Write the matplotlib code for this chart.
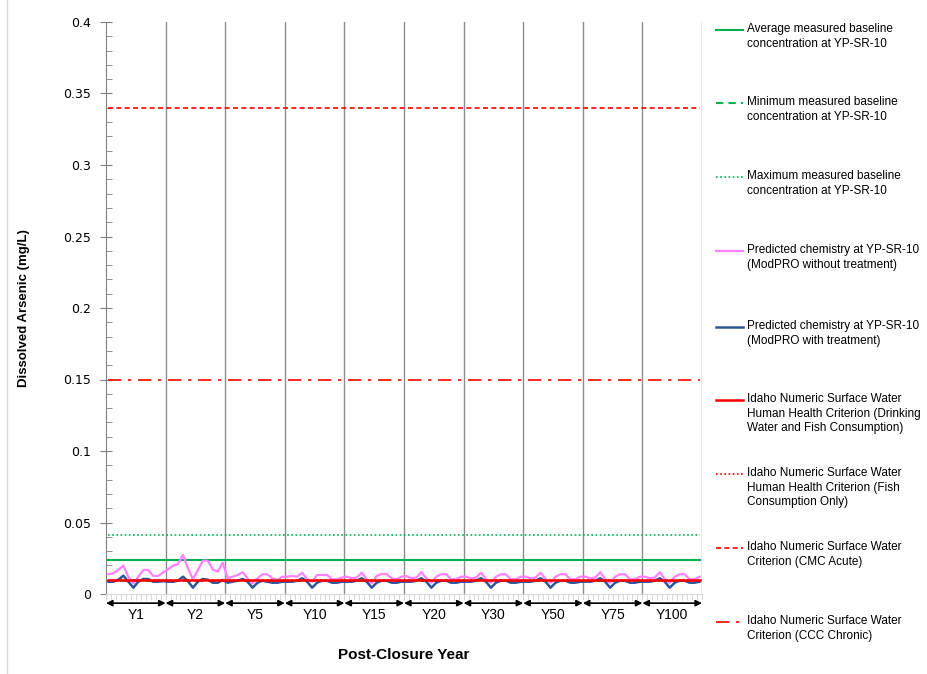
import matplotlib
matplotlib.use("Agg")
import matplotlib.pyplot as plt
from matplotlib.lines import Line2D

# -----------------------------
# Data
# -----------------------------
years = ["Y1", "Y2", "Y5", "Y10", "Y15", "Y20", "Y30", "Y50", "Y75", "Y100"]
months_per_year = 12

# ModPRO without treatment, monthly values per snapshot year (mg/L)
pink_by_year = [
    [0.0138, 0.0145, 0.0170, 0.0198, 0.0120, 0.0075, 0.0120, 0.0168, 0.0168, 0.0126, 0.0126, 0.0152],
    [0.0172, 0.0198, 0.0210, 0.0273, 0.0180, 0.0103, 0.0168, 0.0233, 0.0233, 0.0172, 0.0156, 0.0219],
    [0.0110, 0.0121, 0.0133, 0.0152, 0.0110, 0.0075, 0.0110, 0.0138, 0.0138, 0.0110, 0.0098, 0.0121],
    [0.0121, 0.0126, 0.0121, 0.0149, 0.0103, 0.0086, 0.0133, 0.0133, 0.0133, 0.0103, 0.0103, 0.0115],
    [0.0121, 0.0110, 0.0115, 0.0149, 0.0103, 0.0075, 0.0126, 0.0140, 0.0140, 0.0110, 0.0103, 0.0121],
    [0.0126, 0.0110, 0.0115, 0.0152, 0.0110, 0.0079, 0.0121, 0.0138, 0.0138, 0.0103, 0.0103, 0.0121],
    [0.0121, 0.0110, 0.0115, 0.0149, 0.0105, 0.0079, 0.0121, 0.0138, 0.0138, 0.0103, 0.0103, 0.0121],
    [0.0121, 0.0110, 0.0115, 0.0149, 0.0105, 0.0079, 0.0121, 0.0138, 0.0138, 0.0103, 0.0103, 0.0121],
    [0.0121, 0.0110, 0.0115, 0.0152, 0.0105, 0.0079, 0.0121, 0.0138, 0.0138, 0.0103, 0.0103, 0.0121],
    [0.0121, 0.0110, 0.0115, 0.0152, 0.0105, 0.0079, 0.0121, 0.0138, 0.0138, 0.0103, 0.0103, 0.0121],
]

# ModPRO with treatment
blue_by_year = [
    [0.0086, 0.0086, 0.0100, 0.0128, 0.0086, 0.0044, 0.0086, 0.0105, 0.0105, 0.0086, 0.0086, 0.0090],
    [0.0086, 0.0086, 0.0093, 0.0121, 0.0090, 0.0044, 0.0086, 0.0105, 0.0100, 0.0079, 0.0079, 0.0098],
    [0.0079, 0.0086, 0.0093, 0.0105, 0.0086, 0.0044, 0.0079, 0.0093, 0.0086, 0.0079, 0.0079, 0.0086],
    [0.0086, 0.0086, 0.0093, 0.0110, 0.0086, 0.0044, 0.0079, 0.0093, 0.0093, 0.0079, 0.0079, 0.0086],
    [0.0086, 0.0086, 0.0093, 0.0110, 0.0086, 0.0044, 0.0079, 0.0093, 0.0093, 0.0079, 0.0079, 0.0086],
    [0.0086, 0.0086, 0.0093, 0.0110, 0.0086, 0.0044, 0.0079, 0.0093, 0.0093, 0.0079, 0.0079, 0.0086],
    [0.0086, 0.0086, 0.0093, 0.0110, 0.0086, 0.0044, 0.0079, 0.0093, 0.0093, 0.0079, 0.0079, 0.0086],
    [0.0086, 0.0086, 0.0093, 0.0110, 0.0086, 0.0044, 0.0079, 0.0093, 0.0093, 0.0079, 0.0079, 0.0086],
    [0.0086, 0.0086, 0.0093, 0.0110, 0.0086, 0.0044, 0.0079, 0.0093, 0.0093, 0.0079, 0.0079, 0.0086],
    [0.0086, 0.0086, 0.0093, 0.0110, 0.0086, 0.0044, 0.0079, 0.0093, 0.0093, 0.0079, 0.0079, 0.0086],
]

# constant reference levels (mg/L)
baseline_avg = 0.024
baseline_min = 0.009
baseline_max = 0.041
hh_drinking_fish = 0.010
hh_fish_only = 0.010
cmc_acute = 0.34
ccc_chronic = 0.15

labels = [
    "Average measured baseline\nconcentration at YP-SR-10",
    "Minimum measured baseline\nconcentration at YP-SR-10",
    "Maximum measured baseline\nconcentration at YP-SR-10",
    "Predicted chemistry at YP-SR-10\n(ModPRO without treatment)",
    "Predicted chemistry at YP-SR-10\n(ModPRO with treatment)",
    "Idaho Numeric Surface Water\nHuman Health Criterion (Drinking\nWater and Fish Consumption)",
    "Idaho Numeric Surface Water\nHuman Health Criterion (Fish\nConsumption Only)",
    "Idaho Numeric Surface Water\nCriterion (CMC Acute)",
    "Idaho Numeric Surface Water\nCriterion (CCC Chronic)",
]

# -----------------------------
# Figure
# -----------------------------
fig = plt.figure(figsize=(9.28, 6.74), dpi=100)
ax = fig.add_axes([106 / 928, 1 - 594 / 674, 596 / 928, 572 / 674])

n = len(years) * months_per_year
x = [i + 0.5 for i in range(n)]
pink = [v for yr in pink_by_year for v in yr]
blue = [v for yr in blue_by_year for v in yr]

green = "#00B050"
red = "#FF0000"

series = [
    dict(y=[baseline_avg] * n, color=green, ls="-", lw=1.5),
    dict(y=[baseline_min] * n, color=green, ls=(0, (3.5, 2.5)), lw=1.5),
    dict(y=[baseline_max] * n, color=green, ls=(0, (1, 1.5)), lw=1.2),
    dict(y=pink, color="#FF80FF", ls="-", lw=1.6),
    dict(y=blue, color="#2F5597", ls="-", lw=1.8),
    dict(y=[hh_drinking_fish] * n, color=red, ls="-", lw=1.8),
    dict(y=[hh_fish_only] * n, color=red, ls=(0, (1, 1.5)), lw=1.2),
    dict(y=[cmc_acute] * n, color=red, ls=(0, (3, 2)), lw=1.2),
    dict(y=[ccc_chronic] * n, color=red, ls=(0, (8, 4, 2, 4)), lw=1.2),
]

# draw order: fish-only line hides under the solid red line
order = [6, 1, 2, 0, 3, 4, 5, 7, 8]
for k in order:
    s = series[k]
    ax.plot(x, s["y"], color=s["color"], linestyle=s["ls"], linewidth=s["lw"], zorder=3)

ax.set_xlim(0, n)
ax.set_ylim(0, 0.4)

# y axis
ax.set_yticks([i * 0.05 for i in range(9)])
ax.set_yticklabels(["0", "0.05", "0.1", "0.15", "0.2", "0.25", "0.3", "0.35", "0.4"])
ax.set_yticks([i * 0.01 for i in range(41)], minor=True)
ax.tick_params(axis="y", which="major", direction="inout", length=9, color="#808080",
               labelsize=9, pad=6)
ax.tick_params(axis="y", which="minor", direction="in", length=4, color="#808080")

# x axis: monthly minor ticks, no labels
ax.set_xticks([])
ax.set_xticks(range(n + 1), minor=True)
ax.tick_params(axis="x", which="minor", direction="out", length=4, color="#D0D0D0")

for sp in ["top", "right"]:
    ax.spines[sp].set_visible(False)
ax.spines["left"].set_color("#808080")
ax.spines["bottom"].set_color("#D9D9D9")

# vertical separators between snapshot years
for b in range(months_per_year, n + 1, months_per_year):
    ax.axvline(b, color="#8C8C8C", lw=1, zorder=1)

# year labels with double-headed arrows
trans = ax.get_xaxis_transform()
for i, yr in enumerate(years):
    a = i * months_per_year
    b = a + months_per_year
    ax.annotate("", xy=(b, -0.016), xytext=(a, -0.016), xycoords=trans,
                arrowprops=dict(arrowstyle="<|-|>", color="black", lw=1.2,
                                mutation_scale=9, shrinkA=0, shrinkB=0),
                annotation_clip=False)
    ax.text((a + b) / 2, -0.037, yr, transform=trans, ha="center", va="center",
            fontsize=10, family="Liberation Sans")

ax.set_ylabel("Dissolved Arsenic (mg/L)", fontsize=9.5, fontweight="bold",
              family="Liberation Sans")
ax.yaxis.set_label_coords(-0.128, 0.5)
fig.text(404 / 928, 1 - 655 / 674, "Post-Closure Year", ha="center", va="center",
         fontsize=11, fontweight="bold", family="Liberation Sans")

# legend, drawn entry by entry (handle sits on first text line)
first_line_px = [30, 103, 177, 251, 327, 400, 474, 548, 622]
for s, lab, ypx in zip(series, labels, first_line_px):
    yf = 1 - ypx / 674
    fig.add_artist(Line2D([716 / 928, 743 / 928], [yf, yf], transform=fig.transFigure,
                          color=s["color"], linestyle=s["ls"], linewidth=s["lw"]))
    fig.text(747 / 928, 1 - (ypx - 7) / 674, lab, ha="left", va="top", fontsize=8.5,
             family="Liberation Sans", linespacing=1.3)

# chart-area left border
fig.add_artist(Line2D([7 / 928, 7 / 928], [0, 1], transform=fig.transFigure,
                      color="#D9D9D9", lw=1))

plt.savefig("out.png", dpi=100)
